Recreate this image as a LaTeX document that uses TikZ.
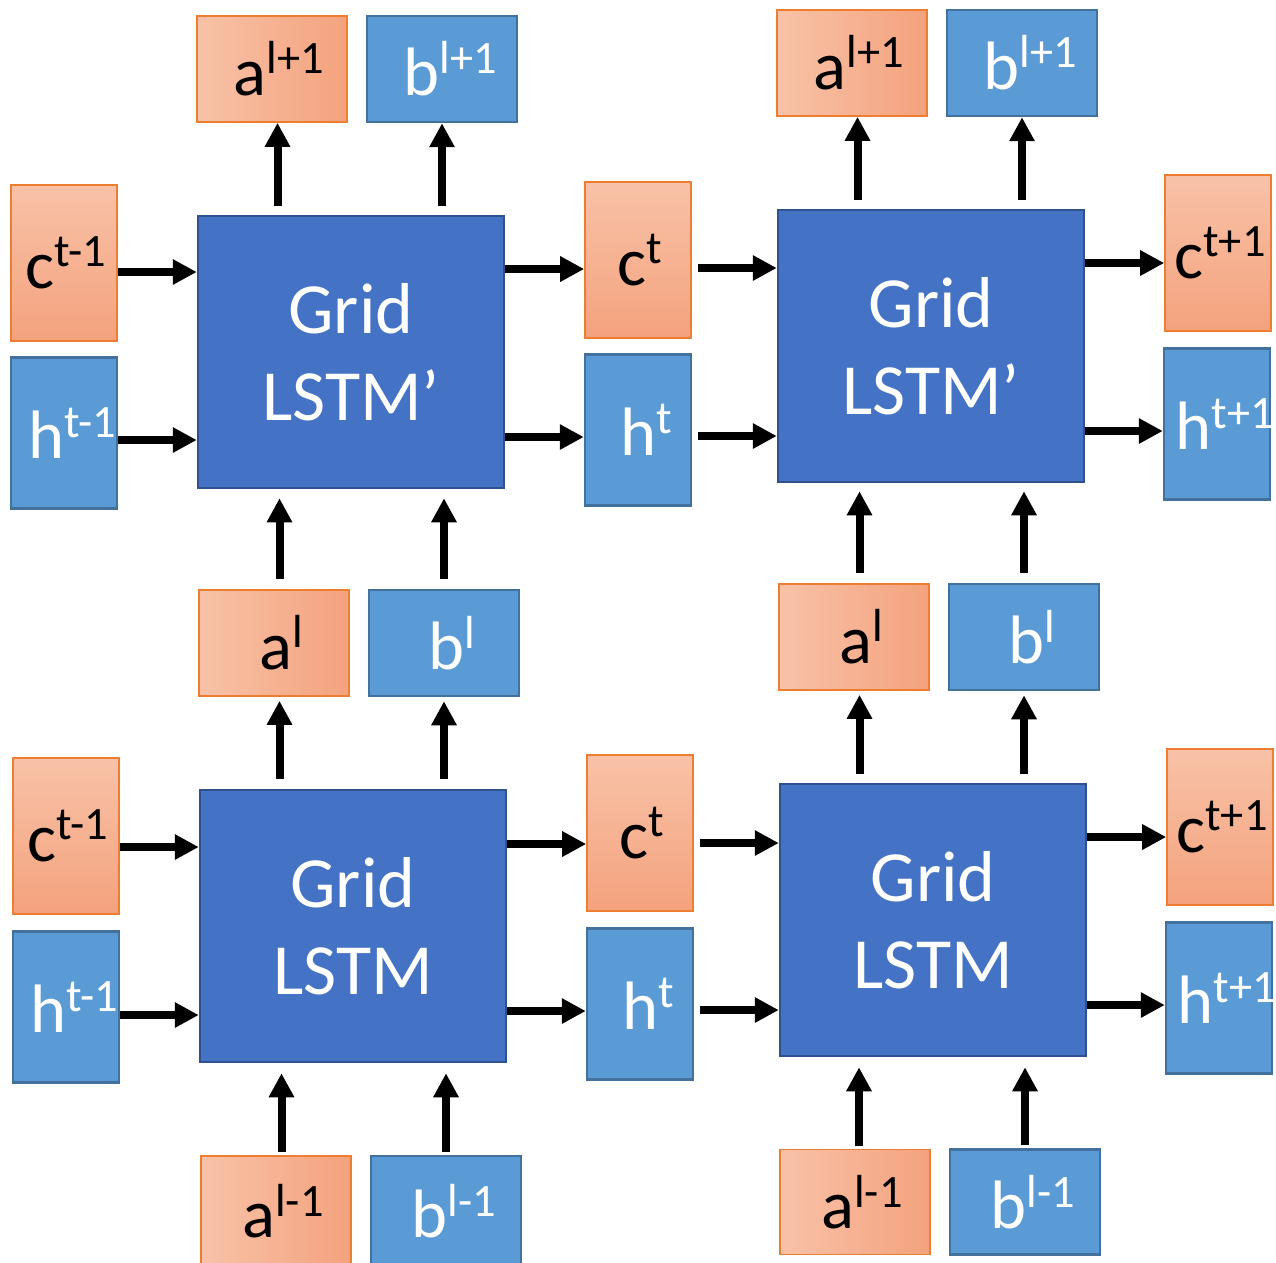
\documentclass[tikz,border=0pt]{standalone}
\usepackage{fontspec}
\setmainfont{Carlito}
\usetikzlibrary{arrows.meta,calc}

\definecolor{orangeL}{HTML}{F8C2A8}
\definecolor{orangeD}{HTML}{F4A27D}
\definecolor{orangeE}{HTML}{ED7D31}
\definecolor{blueF}{HTML}{5B9BD5}
\definecolor{blueE}{HTML}{41719C}
\definecolor{gridF}{HTML}{4472C4}
\definecolor{gridE}{HTML}{2F528F}

\newcommand{\upidx}[1]{\raisebox{6.2pt}{\fontsize{13.2}{15}\selectfont #1}}

\begin{document}
\begin{tikzpicture}[
  x=0.1mm, y=-0.1mm,
  cellbox/.style={draw=gridE, line width=0.7pt, fill=gridF, text=white, align=center,
    minimum width=30.6mm, minimum height=27.2mm, inner sep=0pt,
    font=\fontsize{20.5}{24.7}\selectfont},
  nudge/.style={execute at begin node=\kern#1, execute at end node=\kern-#1},
  cvar/.style={draw=orangeE, line width=0.45pt, top color=orangeL, bottom color=orangeD,
    minimum width=10.6mm, minimum height=15.6mm, inner sep=0pt, nudge=0.2mm,
    font=\fontsize{19.5}{22}\selectfont},
  hvar/.style={draw=blueE, line width=0.7pt, fill=blueF, text=white,
    minimum width=10.6mm, minimum height=15.1mm, inner sep=0pt, nudge=0.8mm,
    font=\fontsize{19.5}{22}\selectfont},
  avar/.style={draw=orangeE, line width=0.45pt, left color=orangeL, right color=orangeD,
    minimum width=15mm, minimum height=10.6mm, inner sep=0pt, nudge=0.7mm,
    font=\fontsize{19.5}{22}\selectfont},
  bvar/.style={draw=blueE, line width=0.7pt, fill=blueF, text=white,
    minimum width=15mm, minimum height=10.6mm, inner sep=0pt, nudge=0.8mm,
    font=\fontsize{19.5}{22}\selectfont},
  arr/.style={-{Triangle[length=2.4mm,width=2.4mm]}, line width=0.8mm}
]
\useasboundingbox (0,0) rectangle (1276,1262);

% grid cells
\node[cellbox] (gridTL) at (351,352) {Grid\\LSTM’};
\node[cellbox] (gridTR) at (931,346) {Grid\\LSTM’};
\node[cellbox] (gridBL) at (353,926) {Grid\\LSTM};
\node[cellbox] (gridBR) at (933,920) {Grid\\LSTM};

% top row outputs
\node[avar] (alpL) at (272,69) {a\upidx{l+1}};
\node[bvar] (blpL) at (442,69) {b\upidx{l+1}};
\node[avar] (alpR) at (852,63) {a\upidx{l+1}};
\node[bvar] (blpR) at (1022,63) {b\upidx{l+1}};

% middle row
\node[avar] (alL) at (274,643) {a\upidx{l}};
\node[bvar] (blL) at (444,643) {b\upidx{l}};
\node[avar] (alR) at (854,637) {a\upidx{l}};
\node[bvar] (blR) at (1024,637) {b\upidx{l}};

% bottom row inputs
\node[avar, minimum height=11mm] (almL) at (276,1211) {a\upidx{l-1}};
\node[bvar, minimum height=11mm] (blmL) at (446,1211) {b\upidx{l-1}};
\node[avar, minimum height=10.5mm] (almR) at (855,1202) {a\upidx{l-1}};
\node[bvar, minimum height=10.5mm] (blmR) at (1025,1202) {b\upidx{l-1}};

% time states, upper layer
\node[cvar] (cprevT) at (64,263) {c\upidx{t-1}};
\node[hvar] (hprevT) at (64,433) {h\upidx{t-1}};
\node[cvar] (ccurT) at (638,260) {c\upidx{t}};
\node[hvar] (hcurT) at (638,430) {h\upidx{t}};
\node[cvar] (cnextT) at (1218,253) {c\upidx{t+1}};
\node[hvar] (hnextT) at (1217,424) {h\upidx{t+1}};

% time states, lower layer
\node[cvar] (cprevB) at (66,836) {c\upidx{t-1}};
\node[hvar] (hprevB) at (66,1007) {h\upidx{t-1}};
\node[cvar] (ccurB) at (640,833) {c\upidx{t}};
\node[hvar] (hcurB) at (640,1004) {h\upidx{t}};
\node[cvar] (cnextB) at (1220,827) {c\upidx{t+1}};
\node[hvar] (hnextB) at (1219,998) {h\upidx{t+1}};

% vertical flow, upper layer
\draw[arr, shorten <=0.9mm] ([xshift=0.55mm]gridTL.north -| alpL) -- ([xshift=0.55mm]alpL.south);
\draw[arr, shorten <=0.9mm] (gridTL.north -| blpL) -- (blpL.south);
\draw[arr, shorten <=0.9mm] ([xshift=0.55mm]gridTR.north -| alpR) -- ([xshift=0.55mm]alpR.south);
\draw[arr, shorten <=0.9mm] (gridTR.north -| blpR) -- (blpR.south);
\draw[arr, shorten <=1mm, shorten >=0.9mm] ([xshift=0.55mm]alL.north) -- ([xshift=0.55mm]alL.north |- gridTL.south);
\draw[arr, shorten <=1mm, shorten >=0.9mm] (blL.north) -- (blL.north |- gridTL.south);
\draw[arr, shorten <=1mm, shorten >=0.8mm] ([xshift=0.55mm]alR.north) -- ([xshift=0.55mm]alR.north |- gridTR.south);
\draw[arr, shorten <=1mm, shorten >=0.8mm] (blR.north) -- (blR.north |- gridTR.south);

% vertical flow, lower layer
\draw[arr, shorten <=1mm, shorten >=0.4mm] ([xshift=0.55mm]gridBL.north -| alL) -- ([xshift=0.55mm]alL.south);
\draw[arr, shorten <=1mm, shorten >=0.4mm] (gridBL.north -| blL) -- (blL.south);
\draw[arr, shorten <=0.9mm, shorten >=0.4mm] ([xshift=0.55mm]gridBR.north -| alR) -- ([xshift=0.55mm]alR.south);
\draw[arr, shorten <=0.9mm, shorten >=0.4mm] (gridBR.north -| blR) -- (blR.south);
\draw[arr, shorten <=0.3mm, shorten >=1mm] ([xshift=0.55mm]almL.north) -- ([xshift=0.55mm]almL.north |- gridBL.south);
\draw[arr, shorten <=0.3mm, shorten >=1mm] (blmL.north) -- (blmL.north |- gridBL.south);
\draw[arr, shorten <=0.3mm, shorten >=1mm] ([xshift=0.4mm]almR.north) -- ([xshift=0.4mm]almR.north |- gridBR.south);
\draw[arr, shorten <=0.3mm, shorten >=1mm] (blmR.north) -- (blmR.north |- gridBR.south);

% horizontal flow, upper layer
\draw[arr] ([yshift=-0.9mm]cprevT.east) -- ([yshift=-0.9mm]cprevT.east -| gridTL.west);
\draw[arr] ([yshift=-0.7mm]hprevT.east) -- ([yshift=-0.7mm]hprevT.east -| gridTL.west);
\draw[arr] ([yshift=-0.9mm]ccurT.west -| gridTL.east) -- ([yshift=-0.9mm]ccurT.west);
\draw[arr] ([yshift=-0.7mm]hcurT.west -| gridTL.east) -- ([yshift=-0.7mm]hcurT.west);
\draw[arr, shorten <=0.6mm] ([yshift=-0.8mm]ccurT.east) -- ([yshift=-0.8mm]ccurT.east -| gridTR.west);
\draw[arr, shorten <=0.6mm] ([yshift=-0.6mm]hcurT.east) -- ([yshift=-0.6mm]hcurT.east -| gridTR.west);
\draw[arr] ([yshift=-1mm]cnextT.west -| gridTR.east) -- ([yshift=-1mm]cnextT.west);
\draw[arr] ([yshift=-0.7mm]hnextT.west -| gridTR.east) -- ([yshift=-0.7mm]hnextT.west);

% horizontal flow, lower layer
\draw[arr] ([yshift=-1.1mm]cprevB.east) -- ([yshift=-1.1mm]cprevB.east -| gridBL.west);
\draw[arr] ([yshift=-0.8mm]hprevB.east) -- ([yshift=-0.8mm]hprevB.east -| gridBL.west);
\draw[arr] ([yshift=-1.1mm]ccurB.west -| gridBL.east) -- ([yshift=-1.1mm]ccurB.west);
\draw[arr] ([yshift=-0.7mm]hcurB.west -| gridBL.east) -- ([yshift=-0.7mm]hcurB.west);
\draw[arr, shorten <=0.6mm] ([yshift=-1mm]ccurB.east) -- ([yshift=-1mm]ccurB.east -| gridBR.west);
\draw[arr, shorten <=0.6mm] ([yshift=-0.6mm]hcurB.east) -- ([yshift=-0.6mm]hcurB.east -| gridBR.west);
\draw[arr] ([yshift=-1mm]cnextB.west -| gridBR.east) -- ([yshift=-1mm]cnextB.west);
\draw[arr] ([yshift=-0.7mm]hnextB.west -| gridBR.east) -- ([yshift=-0.7mm]hnextB.west);
\end{tikzpicture}
\end{document}
